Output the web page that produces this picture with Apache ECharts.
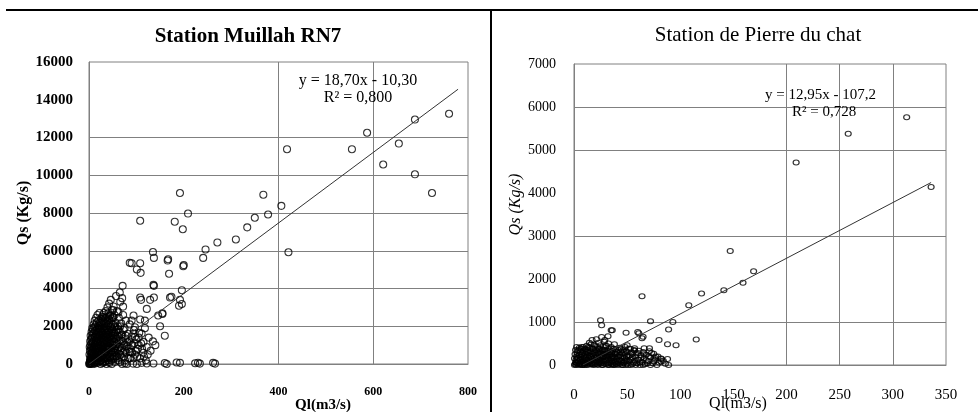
<!DOCTYPE html>
<html>
<head>
<meta charset="utf-8">
<title>Qs = f(Ql)</title>
<script src="https://cdn.jsdelivr.net/npm/echarts@6/dist/echarts.min.js"></script>
<style>
  html, body { margin: 0; padding: 0; background: #fff; }
  #chart { width: 978px; height: 412px; }
</style>
</head>
<body>
<div id="chart"></div>
<script>
// Station Muillah RN7 : [Ql (m3/s), Qs (kg/s)]
const muillahPoints = [
  [418,11380],[555,11380],[654,11680],[621,10570],[688,10050],[724,9060],[192,9060],[368,8970],
  [406,8380],[378,7920],[350,7750],[334,7240],[310,6600],[271,6440],[246,6070],[241,5620],
  [421,5920],[108,7590],[181,7540],[198,7140],[209,7970],[135,5930],[137,5620],[167,5550],
  [199,5180],[90,5340],[108,5340],[587,12250],[688,12950],[760,13260],
  [166,5480],[200,5240],[86,5360],[101,5010],[109,4830],[169,4780],[137,4140],[196,3910],
  [108,3520],[110,3400],[129,3400],[137,3520],[171,3520],[192,3400],[190,3090],[122,2920],
  [155,2650],[146,2570],[71,4140],[65,3790],[70,3490],[72,3040],[62,2740],[30,2480],
  [51,2480],[90,2300],[108,2360],[97,1950],[94,1610],[97,1430],[86,640],[136,4190],
  [174,3560],[196,3180],[155,2690],[51,2860],[94,2570],[118,2300],[111,1610],[115,1170],[105,1400],
  [76,40],[93,20],[111,60],[136,30],[160,50],[185,80],[224,40],[262,60],[80,0],[101,0],
  [122,30],[164,0],[192,60],[230,70],[234,20],[266,20],
  [0.5,0],[1,30],[1.5,80],[2,10],[2,150],[2.5,250],[3,60],[3,400],[3.5,180],[4,20],[4,300],
  [4.5,550],[5,120],[5,700],[5.5,420],[6,40],[6,250],[6.5,900],[7,600],[7,150],[7.5,350],
  [8,0],[8,780],[8.5,480],[9,1100],[9,220],[9.5,650],[10,60],[10,900],[10.5,380],[11,1250],
  [11,560],[11.5,150],[12,800],[12,1050],[12.5,20],[13,1400],[13,300],[13.5,650],[14,950],
  [14,480],[14.5,1600],[15,100],[15,1200],[15.5,750],[16,350],[16,1800],[16.5,1000],[17,560],
  [17,50],[17.5,1350],[18,850],[18,1500],[18.5,200],[19,1100],[19,650],[19.5,2000],[20,400],
  [20,1700],[20.5,950],[21,120],[21,1300],[21.5,1550],[22,700],[22,2200],[22.5,300],[23,1050],
  [23,1850],[23.5,500],[24,1400],[24,850],[24.5,0],[25,1650],[25,1200],[25.5,2400],[26,600],
  [26,200],[26.5,1000],[27,1900],[27,1500],[27.5,750],[28,2100],[28,400],[28.5,1300],[29,50],
  [29,1700],[29.5,950],[30,2600],[30,1150],[30.5,550],[31,1450],[31,2250],[31.5,250],[32,1800],
  [32,800],[32.5,2000],[33,1050],[33,100],[33.5,1550],[34,2400],[34,650],[34.5,1250],[35,1900],
  [35,300],[35.5,2800],[36,900],[36,1650],[36.5,2150],[37,0],[37,1400],[37.5,500],[38,2500],
  [38,1100],[38.5,1800],[39,750],[39,3000],[39.5,1300],[40,200],[40,2050],[40.5,1550],[41,900],
  [41,2700],[41.5,400],[42,1750],[42,1200],[42.5,3200],[43,600],[43,2300],[43.5,50],[44,1450],
  [44,1950],[44.5,850],[45,2600],[45,350],[46,1100],[46,3400],[46.5,1650],[47,700],[47,2150],
  [48,1300],[48,0],[48.5,2850],[49,500],[49,1850],[50,1000],[50,2450],[51,1500],[51,250],
  [52,3050],[52,800],[53,1950],[53,1200],[54,600],[54,2600],[55,1600],[55,100],[56,2200],
  [56,950],[57,1350],[57,3600],[58,400],[58,1800],[59,2800],[60,1100],[60,700],[61,2000],
  [62,1450],[62,200],[63,2450],[64,900],[65,1700],[66,3300],[66,500],[67,1250],[68,2150],
  [69,850],[70,1550],[70,0],[72,2600],[73,1100],[74,400],[75,1900],[76,700],[77,1350],
  [78,2300],[80,950],[82,1600],[83,300],[85,1200],[86,2100],[88,650],[90,1450],[92,1000],
  [95,1800],[97,500],[100,1300],[103,800],[106,1650],[110,1100],[114,600],[118,1900],
  [122,900],[126,1400],[130,700],[135,1200],[140,1000],[150,2000],[160,1500],
  [1,500],[1.5,900],[2,700],[2.5,1200],[3,1000],[3.5,1500],[4,850],[4.5,1300],[5,1100],
  [5.5,1700],[6,1400],[6.5,600],[7,1900],[7.5,1150],[8,1600],[8.5,300],[9,1850],[9.5,1400],
  [10,2100],[10.5,1650],[11,850],[11.5,1950],[12,2300],[12.5,1450],[13,1750],[13.5,100],
  [14,2050],[14.5,1250],[15,2450],[15.5,400],[16,1550],[16.5,2200],[17,850],[17.5,1900],
  [18,2600],[18.5,1200],[19,300],[19.5,1450],[20,2300],[20.5,600],[21,1900],[21.5,800],
  [22,2700],[22.5,1500],[23,150],[23.5,2050],[24,1150],[24.5,1750],[25,350],[25.5,900],
  [26,2200],[26.5,1350],[27,550],[27.5,2500],[28,1650],[28.5,100],[29,2300],[29.5,1400],
  [30,750],[30.5,1900],[31,350],[31.5,2700],[32,1250],[32.5,550],[33,2200],[33.5,850],
  [34,1750],[34.5,150],[35,1450],[35.5,2450],[36,600],[36.5,1200],[37,2000],[37.5,800],
  [38,1550],[38.5,300],[39,2250],[39.5,950],[40,1700],[40.5,550],[41,1350],[41.5,2400],
  [42,800],[42.5,100],[43,1600],[43.5,1100],[44,2550],[44.5,400],[45,1300],[45.5,2000],
  [46,650],[46.5,200],[47,1500],[47.5,2400],[48,850],[48.5,1750],[49,1150],[49.5,300],
  [50,1600],[50.5,650],[51,2100],[52,1350],[52.5,400],[53,850],[53.5,1650],[54,1150],
  [55,2000],[55.5,700],[56,400],[57,1700],[58,1050],[59,300],[60,1500],[61,800],[62,1850],
  [63,550],[64,1250],[65,100],[66,2000],[67,700],[68,1500],[69,350],[71,1200],[72,600],
  [73,1800],[75,1000],[76,200],[78,1500],[79,600],[81,1150],[84,800],[87,300],[89,1000],
  [91,600],[94,300],[96,1100],[99,700],[102,400],[105,1000],[108,300],[112,800],[116,400],
  [120,200],[124,500]
];
// trend line y = 18,70x - 10,30, drawn between the first and last Ql
const muillahTrend = [[0.55, 0], [779, 14557]];
const muillahYGrid = [2000, 4000, 6000, 8000, 10000, 12000];
const muillahXGrid = [400, 600];

// Station de Pierre du chat
const pierrePoints = [
  [313,5760],[258,5380],[209,4710],[336,4140],[147,2650],[169,2180],[159,1910],[141,1740],
  [120,1660],[64,1600],[108,1390],[93,1000],[89,825],[72,1020],[115,595],[80,580],[88,485],
  [96,460],[64,620],[60,770],[49,750],[36,810],[25,1040],[26,925],[32,670],[29,580],[50,460],
  [57,390],[66,390],[71,320],[76,160],[82,140],[89,0],[82,80],[61,740],[65,655],[35,810],
  [0.5,0],[1,20],[1.5,60],[2,5],[2,120],[2.5,200],[3,40],[3,280],[3.5,90],[4,0],[4,160],
  [4.5,350],[5,30],[5,230],[5.5,110],[6,10],[6,300],[6.5,180],[7,60],[7,420],[7.5,250],
  [8,0],[8,140],[8.5,330],[9,80],[9,200],[9.5,20],[10,380],[10,120],[10.5,260],[11,40],
  [11,170],[11.5,300],[12,0],[12,450],[12.5,90],[13,220],[13,350],[13.5,50],[14,150],
  [14,280],[14.5,520],[15,10],[15,400],[15.5,190],[16,100],[16,320],[16.5,30],[17,250],
  [17,580],[17.5,140],[18,0],[18,380],[18.5,210],[19,70],[19,470],[19.5,300],[20,130],
  [20,20],[20.5,350],[21,240],[21,600],[21.5,90],[22,420],[22,170],[22.5,0],[23,290],
  [23,520],[23.5,60],[24,200],[24,380],[24.5,130],[25,30],[25,460],[25.5,260],[26,100],
  [26,650],[26.5,330],[27,180],[27,0],[27.5,420],[28,80],[28,270],[28.5,540],[29,150],
  [29,350],[30,20],[30,230],[30.5,450],[31,110],[31,300],[32,0],[32,190],[32.5,500],[33,60],
  [33,380],[34,260],[34,130],[35,10],[35,420],[35.5,200],[36,90],[36,320],[37,160],[37,0],
  [38,250],[38,480],[39,70],[39,360],[40,140],[40,20],[41,280],[42,200],[42,60],[43,400],
  [44,110],[44,300],[45,0],[46,180],[46,350],[47,60],[48,250],[48,420],[49,120],[50,30],
  [50,300],[51,200],[52,80],[53,380],[54,150],[55,20],[55,260],[57,100],[57,330],[58,190],
  [59,40],[60,280],[61,130],[62,0],[63,220],[64,70],[65,300],[66,160],[67,20],[68,240],
  [70,90],[71,390],[72,180],[74,40],[75,260],[76,120],[78,0],[79,200],[80,60],[82,150],
  [84,100],[86,30],[88,140],
  [0.5,150],[1,250],[1.5,350],[2,60],[2.5,420],[3,150],[3.5,330],[4,80],[4.5,230],[5,400],
  [5.5,20],[6,130],[6.5,380],[7,230],[7.5,0],[8,290],[8.5,70],[9,420],[9.5,160],[10,0],
  [10.5,50],[11,360],[11.5,200],[12,120],[12.5,300],[13,10],[13.5,420],[14,60],[14.5,220],
  [15,320],[15.5,90],[16,480],[16.5,180],[17,30],[17.5,380],[18,100],[18.5,280],[19,10],
  [19.5,180],[20,440],[20.5,60],[21,160],[21.5,330],[22,20],[22.5,260],[23,130],[23.5,380],
  [24,60],[24.5,300],[25,160],[25.5,50],[26,220],[26.5,0],[27,350],[27.5,100],[28,190],
  [28.5,30],[29,260],[29.5,440],[30,110],[30.5,330],[31,200],[31.5,40],[32,280],[32.5,140],
  [33,0],[33.5,230],[34,340],[34.5,60],[35,150],[35.5,290],[36,20],[36.5,190],[37,380],
  [37.5,100],[38,0],[38.5,170],[39,260],[39.5,30],[40,310],[40.5,200],[41,90],[41.5,0],
  [42,350],[42.5,130],[43,240],[43.5,30],[44,190],[44.5,380],[45,100],[45.5,270],[46,0],
  [46.5,50],[47,310],[47.5,170],[48,80],[48.5,0],[49,330],[49.5,200],[50,100],[51,0],
  [51.5,380],[52,220],[53,120],[53.5,0],[54,290],[55,180],[56,60],[56.5,350],[58,0],
  [58.5,270],[60,120],[61,330],[62,60],[63,170],[65,0],[66,250],[68,110],[69,40],[70,200],
  [72,0],[73,280],[75,80],[77,200]
];
// trend line y = 12,95x - 107,2
const pierreTrend = [[8.3, 0], [336, 4244]];
const pierreYGrid = [1000, 3000, 5000, 6000];
const pierreXGrid = [200, 250, 300];

const serif = 'Liberation Serif, Times New Roman, serif';
const gridGray = '#808080';

const chart = echarts.init(document.getElementById('chart'));

function gridLines(yList, xList) {
  return {
    silent: true,
    symbol: 'none',
    animation: false,
    label: { show: false },
    lineStyle: { color: gridGray, width: 1, type: 'solid' },
    data: yList.map(v => ({ yAxis: v })).concat(xList.map(v => ({ xAxis: v })))
  };
}

function scatter(idx, data, size) {
  return {
    type: 'scatter',
    xAxisIndex: idx,
    yAxisIndex: idx,
    data: data,
    symbol: 'circle',
    symbolSize: size,
    z: 3,
    itemStyle: { color: 'rgba(255,255,255,0)', borderColor: '#000', borderWidth: 1.1 }
  };
}

function trend(idx, data, yList, xList) {
  return {
    type: 'line',
    xAxisIndex: idx,
    yAxisIndex: idx,
    data: data,
    symbol: 'none',
    z: 4,
    lineStyle: { color: '#333', width: 1 },
    markLine: Object.assign(gridLines(yList, xList), { z: 1 })
  };
}

const plain = v => String(v);

chart.setOption({
  animation: false,
  grid: [
    { left: 89, right: 510, top: 62, bottom: 48, show: true, borderColor: gridGray, borderWidth: 1 },
    { left: 574, right: 32, top: 64, bottom: 47, show: true, borderColor: gridGray, borderWidth: 1 }
  ],
  xAxis: [
    {
      gridIndex: 0, type: 'value', min: 0, max: 800, interval: 200,
      axisLine: { lineStyle: { color: gridGray, width: 1 } },
      axisTick: { show: false },
      splitLine: { show: false },
      axisLabel: { color: '#000', fontFamily: serif, fontWeight: 'bold', fontSize: 12, margin: 22, formatter: plain }
    },
    {
      gridIndex: 1, type: 'value', min: 0, max: 350, interval: 50,
      axisLine: { lineStyle: { color: gridGray, width: 1 } },
      axisTick: { show: false },
      splitLine: { show: false },
      axisLabel: { color: '#000', fontFamily: serif, fontSize: 15, margin: 23, formatter: plain }
    }
  ],
  yAxis: [
    {
      gridIndex: 0, type: 'value', min: 0, max: 16000, interval: 2000,
      axisLine: { show: true, lineStyle: { color: gridGray, width: 1 } },
      axisTick: { show: false },
      splitLine: { show: false },
      axisLabel: { color: '#000', fontFamily: serif, fontWeight: 'bold', fontSize: 15, margin: 16, formatter: plain },
      name: 'Qs (Kg/s)', nameLocation: 'middle', nameGap: 52, nameRotate: 90,
      nameTextStyle: { color: '#000', fontFamily: serif, fontWeight: 'bold', fontSize: 16 }
    },
    {
      gridIndex: 1, type: 'value', min: 0, max: 7000, interval: 1000,
      axisLine: { show: true, lineStyle: { color: gridGray, width: 1 } },
      axisTick: { show: false },
      splitLine: { show: false },
      axisLabel: { color: '#000', fontFamily: serif, fontSize: 14, margin: 18, formatter: plain },
      name: 'Qs (Kg/s)', nameLocation: 'middle', nameGap: 48, nameRotate: 90,
      nameTextStyle: { color: '#000', fontFamily: serif, fontStyle: 'italic', fontSize: 16, padding: [0, 0, 0, 20] }
    }
  ],
  graphic: [
    { type: 'line', shape: { x1: 6, y1: 10, x2: 978, y2: 10 }, style: { stroke: '#000', lineWidth: 2 } },
    { type: 'line', shape: { x1: 491, y1: 10, x2: 491, y2: 412 }, style: { stroke: '#000', lineWidth: 2 } },
    { type: 'text', x: 248, y: 37, style: { text: 'Station Muillah RN7', font: 'bold 21px ' + serif, fill: '#000', textAlign: 'center', textVerticalAlign: 'middle' } },
    { type: 'text', x: 758, y: 35, style: { text: 'Station de Pierre du chat', font: '21px ' + serif, fill: '#000', textAlign: 'center', textVerticalAlign: 'middle' } },
    { type: 'text', x: 358, y: 81, z: 10, style: { text: 'y = 18,70x - 10,30', font: '16px ' + serif, fill: '#000', textAlign: 'center', textVerticalAlign: 'middle' } },
    { type: 'text', x: 358, y: 98, z: 10, style: { text: 'R² = 0,800', font: '16px ' + serif, fill: '#000', textAlign: 'center', textVerticalAlign: 'middle' } },
    { type: 'text', x: 765, y: 95, z: 10, style: { text: 'y = 12,95x - 107,2', font: '15px ' + serif, fill: '#000', textAlign: 'left', textVerticalAlign: 'middle' } },
    { type: 'text', x: 792, y: 112, z: 10, style: { text: 'R² = 0,728', font: '15px ' + serif, fill: '#000', textAlign: 'left', textVerticalAlign: 'middle' } },
    { type: 'text', x: 323, y: 405, style: { text: 'Ql(m3/s)', font: 'bold 15px ' + serif, fill: '#000', textAlign: 'center', textVerticalAlign: 'middle' } },
    { type: 'text', x: 738, y: 404, style: { text: 'Ql(m3/s)', font: '16px ' + serif, fill: '#000', textAlign: 'center', textVerticalAlign: 'middle' } }
  ],
  series: [
    trend(0, muillahTrend, muillahYGrid, muillahXGrid),
    scatter(0, muillahPoints, 7),
    trend(1, pierreTrend, pierreYGrid, pierreXGrid),
    scatter(1, pierrePoints, [6, 5])
  ]
});
</script>
</body>
</html>
